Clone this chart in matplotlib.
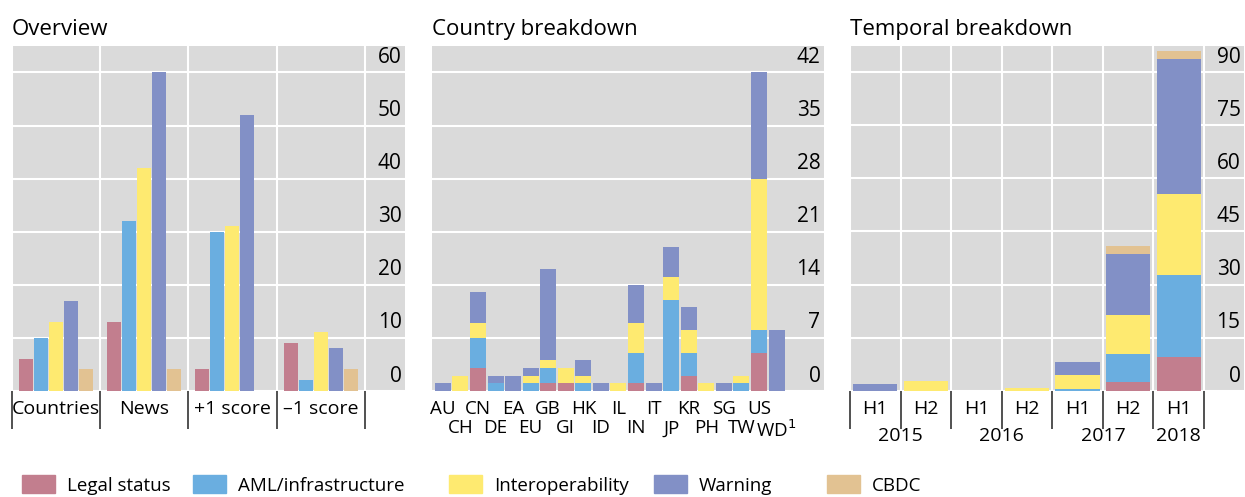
import matplotlib
matplotlib.use("Agg")
import matplotlib.pyplot as plt
import numpy as np
from matplotlib.patches import Patch

plt.rcParams['font.family'] = ['Open Sans', 'DejaVu Sans']

series = ["Legal status", "AML/infrastructure", "Interoperability", "Warning", "CBDC"]
colors = ["#C27E8E", "#6AAEE0", "#FEEA70", "#8290C6", "#E2C292"]
bg = "#DADADA"

# Overview
ov_cats = ["Countries", "News", "+1 score", "\u20131 score"]
ov_legal = [6, 13, 4, 9]
ov_aml = [10, 32, 30, 2]
ov_inter = [13, 42, 31, 11]
ov_warn = [17, 60, 52, 8]
ov_cbdc = [4, 4, 0, 4]
ov_ticks = [0, 10, 20, 30, 40, 50, 60]

# Country breakdown
ct_cats = ["AU", "CH", "CN", "DE", "EA", "EU", "GB", "GI", "HK", "ID", "IL", "IN",
           "IT", "JP", "KR", "PH", "SG", "TW", "US", "WD$^1$"]
ct_legal = [0, 0, 3, 0, 0, 0, 1, 1, 0, 0, 0, 1, 0, 0, 2, 0, 0, 0, 5, 0]
ct_aml = [0, 0, 4, 1, 0, 1, 2, 0, 1, 0, 0, 4, 0, 12, 3, 0, 0, 1, 3, 0]
ct_inter = [0, 2, 2, 0, 0, 1, 1, 2, 1, 0, 1, 4, 0, 3, 3, 1, 0, 1, 20, 0]
ct_warn = [1, 0, 4, 1, 2, 1, 12, 0, 2, 1, 0, 5, 1, 4, 3, 0, 1, 0, 14, 8]
ct_cbdc = [0] * 20
ct_ticks = [0, 7, 14, 21, 28, 35, 42]

# Temporal breakdown
tm_halves = ["H1", "H2", "H1", "H2", "H1", "H2", "H1"]
tm_years = ["2015", "2016", "2017", "2018"]
tm_year_pos = [0.5, 2.5, 4.5, 6]
tm_legal = [0, 0, 0, 0, 0, 2.5, 9.6]
tm_aml = [0, 0, 0, 0, 0.5, 8, 23]
tm_inter = [0, 2.8, 0, 0.8, 4, 11, 23]
tm_warn = [2, 0, 0, 0, 3.5, 17, 38]
tm_cbdc = [0, 0, 0, 0, 0, 2.5, 2.5]
tm_ticks = [0, 15, 30, 45, 60, 75, 90]

fig = plt.figure(figsize=(12.45, 4.97), dpi=100)

bot, h = 0.2139, 0.6936
ax1 = fig.add_axes([0.0094, bot, 0.3159, h])
ax2 = fig.add_axes([0.3467, bot, 0.3151, h])
ax3 = fig.add_axes([0.6827, bot, 0.3165, h])


def style(ax, ticks, ymax, title):
    ax.set_facecolor(bg)
    for s in ax.spines.values():
        s.set_visible(False)
    ax.set_ylim(0, ymax)
    ax.set_yticks(ticks)
    ax.yaxis.grid(True, color="white", lw=1.5)
    ax.set_axisbelow(True)
    ax.tick_params(axis="y", length=0, labelleft=False)
    for t in ticks:
        ax.annotate(str(t), xy=(1, t), xycoords=("axes fraction", "data"),
                    xytext=(-2.5, 3), textcoords="offset points",
                    ha="right", va="bottom", fontsize=15, color="black")
    ax.set_title(title, loc="left", fontsize=16, pad=8, x=0.0)


# Overview: grouped bars
style(ax1, ov_ticks, 65, "Overview")
x = np.arange(len(ov_cats))
step, w = 0.17, 0.158
for i, vals in enumerate([ov_legal, ov_aml, ov_inter, ov_warn, ov_cbdc]):
    ax1.bar(x + (i - 2) * step, vals, width=w, color=colors[i], zorder=2)
ax1.set_xlim(-0.5, 3.954)
ax1.set_xticks(np.arange(-0.5, 4.0, 1.0))
ax1.set_xticks(x, minor=True)
ax1.set_xticklabels([], minor=False)
ax1.set_xticklabels(ov_cats, minor=True, fontsize=14)
ax1.xaxis.grid(True, which="major", color="white", lw=1.5)
ax1.tick_params(axis="x", which="major", length=27, width=1.2, color="#333333", direction="out")
ax1.tick_params(axis="x", which="minor", length=0, pad=7)

# Country breakdown: stacked bars
style(ax2, ct_ticks, 45.5, "Country breakdown")
x = np.arange(len(ct_cats))
bottom = np.zeros(len(ct_cats))
for i, vals in enumerate([ct_legal, ct_aml, ct_inter, ct_warn, ct_cbdc]):
    ax2.bar(x, vals, bottom=bottom, width=0.91, color=colors[i], zorder=2)
    bottom += np.array(vals)
ax2.set_xlim(-0.64, 21.7)
ax2.set_xticks(x)
ax2.set_xticklabels(ct_cats, fontsize=13.5)
ax2.tick_params(axis="x", length=0, pad=7)
for j, lab in enumerate(ax2.get_xticklabels()):
    if j % 2 == 1:
        lab.set_y(-0.055)

# Temporal breakdown: stacked bars
style(ax3, tm_ticks, 97.4, "Temporal breakdown")
x = np.arange(len(tm_halves))
bottom = np.zeros(len(tm_halves))
for i, vals in enumerate([tm_legal, tm_aml, tm_inter, tm_warn, tm_cbdc]):
    ax3.bar(x, vals, bottom=bottom, width=0.875, color=colors[i], zorder=2)
    bottom += np.array(vals)
ax3.set_xlim(-0.5, 7.29)
ax3.set_xticks(np.arange(-0.5, 7.0, 1.0))
ax3.set_xticks(x, minor=True)
ax3.set_xticklabels([], minor=False)
ax3.set_xticklabels(tm_halves, minor=True, fontsize=14)
ax3.xaxis.grid(True, which="major", color="white", lw=1.5)
ax3.tick_params(axis="x", which="major", length=27, width=1.2, color="#333333", direction="out")
ax3.tick_params(axis="x", which="minor", length=0, pad=7)
for p, yr in zip(tm_year_pos, tm_years):
    ax3.annotate(yr, xy=(p, 0), xycoords=("data", "axes fraction"),
                 xytext=(0, -26), textcoords="offset points",
                 ha="center", va="top", fontsize=14)

# legend, items placed one by one
leg_x = [0.0177, 0.155, 0.3606, 0.5253, 0.6642]
for lx, name, c in zip(leg_x, series, colors):
    fig.legend(handles=[Patch(color=c)], labels=[name], loc="center left",
               bbox_to_anchor=(lx, 0.024), frameon=False, fontsize=13.5,
               handlelength=1.75, handleheight=1.1, handletextpad=0.65,
               borderpad=0, borderaxespad=0)

fig.savefig("out.png", dpi=100)
